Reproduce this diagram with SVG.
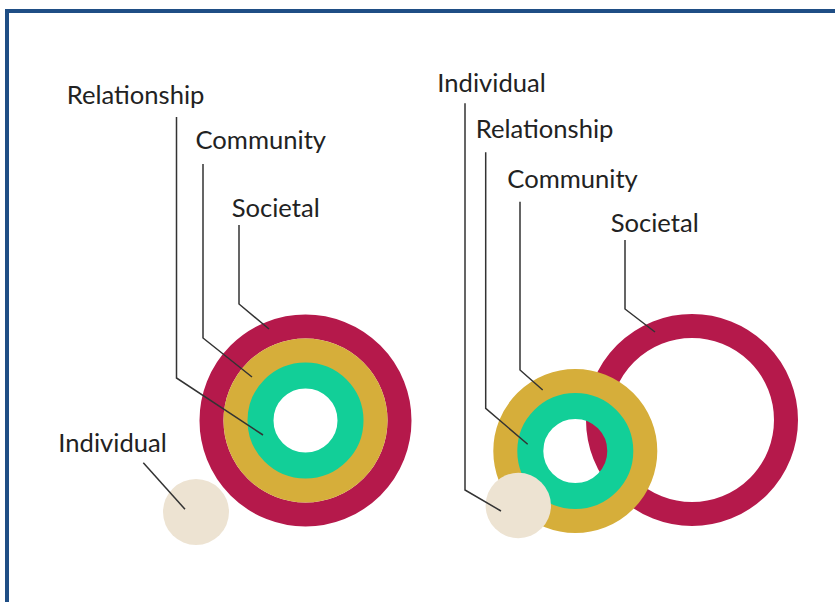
<svg xmlns="http://www.w3.org/2000/svg" width="835" height="602" viewBox="0 0 835 602">
<style>
.lbl{font-family:Lato,"Open Sans","Liberation Sans",sans-serif;font-size:25.6px;fill:#222}
.lead{fill:none;stroke:#333;stroke-width:1.5}
.red{fill:none;stroke:#b5194b;stroke-width:24}
.gold{fill:none;stroke:#d6ae3a;stroke-width:25}
.green{fill:none;stroke:#12cf98;stroke-width:26}
.beige{fill:#ede3d2}
</style>
<rect x="0" y="0" width="835" height="602" fill="#fff"/>
<rect x="7" y="11" width="850" height="620" fill="none" stroke="#1f4e85" stroke-width="4"/>
<g id="left-model">
  <g id="left-societal"><circle class="red" cx="305.5" cy="420.5" r="94"/><text class="lbl" x="231.7" y="216.7">Societal</text></g>
  <g id="left-community"><circle class="gold" cx="305.5" cy="420.5" r="69.5"/><text class="lbl" x="195.5" y="149">Community</text></g>
  <g id="left-relationship"><circle class="green" cx="305.5" cy="420.5" r="45"/><text class="lbl" x="66.7" y="104">Relationship</text></g>
  <g id="left-individual"><circle class="beige" cx="196" cy="512" r="33"/><text class="lbl" x="58.3" y="452">Individual</text></g>
</g>
<g id="right-model">
  <g id="right-societal"><circle class="red" cx="692" cy="420" r="94"/><text class="lbl" x="610.7" y="231.7">Societal</text></g>
  <g id="right-community"><circle class="gold" cx="575.3" cy="451" r="69.5"/><text class="lbl" x="507.3" y="188.3">Community</text></g>
  <g id="right-relationship"><circle class="green" cx="575.3" cy="451" r="45"/><text class="lbl" x="475.7" y="138.3">Relationship</text></g>
  <g id="right-individual"><circle class="beige" cx="518.3" cy="505.5" r="32.7"/><text class="lbl" x="437.3" y="91.7">Individual</text></g>
</g>
<g id="connectors">
  <polyline class="lead" points="239,225 239,304 269,329"/>
  <polyline class="lead" points="203,164 203,338 252,377"/>
  <polyline class="lead" points="176.5,117 176.5,378 263,435"/>
  <polyline class="lead" points="143.3,462.7 185,509.3"/>
  <polyline class="lead" points="625,240 625,309 655,332"/>
  <polyline class="lead" points="520,201.7 520,370 542.7,390"/>
  <polyline class="lead" points="485.7,152.3 485.7,408.3 527.7,444.3"/>
  <polyline class="lead" points="465,103.3 465,490 501,511"/>
</g>
</svg>
